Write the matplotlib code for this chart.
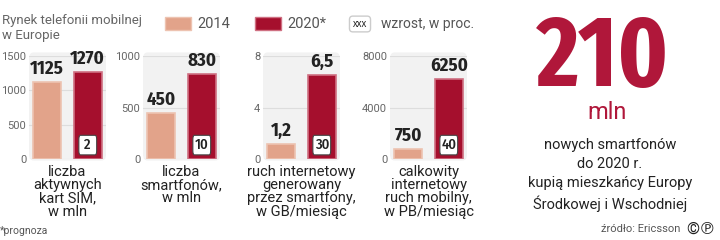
import matplotlib
matplotlib.use("Agg")
import matplotlib.pyplot as plt
from matplotlib.patches import FancyBboxPatch, Patch
from matplotlib import transforms

# data
categories = [
    "liczba\naktywnych\nkart SIM,\nw mln",
    "liczba\nsmartfonów,\nw mln",
    "ruch internetowy\ngenerowany\nprzez smartfony,\nw GB/miesiąc",
    "calkowity\ninternetowy\nruch mobilny,\nw PB/miesiąc",
]
values_2014 = [1125, 450, 1.2, 750]
values_2020 = [1270, 830, 6.5, 6250]
growth_pct = [2, 10, 30, 40]
y_ticks = [[0, 500, 1000, 1500], [0, 500, 1000], [0, 4, 8], [0, 4000, 8000]]
series_labels = ["2014", "2020*"]

C14 = "#e2a38a"
C20 = "#a50f2d"
RED = "#b0173a"
TXT = "#222222"
GREY = "#666666"
NARROW = ["Fira Sans Condensed", "DejaVu Sans"]
XNARROW = ["Fira Sans Extra Condensed", "Fira Sans Condensed", "DejaVu Sans"]

plt.rcParams["font.family"] = ["Roboto", "DejaVu Sans"]

W, H = 720, 240
fig = plt.figure(figsize=(7.2, 2.4), dpi=100)


def fx(px):
    return px / W


def fy(py):
    return 1 - py / H


def fmt(v):
    return str(v).replace(".", ",")


panel_left = [29, 143, 263, 390]
ax_w, ax_top, ax_bot = 77, 56, 159

for i in range(4):
    ax = fig.add_axes([fx(panel_left[i]), fy(ax_bot), ax_w / W, (ax_bot - ax_top) / H])
    ax.set_xlim(-0.45, 1.45)
    ax.set_ylim(0, y_ticks[i][-1])
    ax.set_yticks(y_ticks[i])
    ax.tick_params(axis="y", length=0, pad=2, labelsize=8, labelcolor=GREY)
    ax.set_xticks([])
    for s in ax.spines.values():
        s.set_visible(False)
    ax.patch.set_alpha(0)
    ax.add_patch(FancyBboxPatch((0.0, -0.015), 1.0, 1.05, boxstyle="round,pad=0,rounding_size=0.06",
                                transform=ax.transAxes, fc="#f2f2f2", ec="none",
                                clip_on=False, zorder=0))
    ax.grid(axis="y", color="#dddddd", lw=0.8, zorder=1)
    ax.set_axisbelow(True)

    ax.bar([0], [values_2014[i]], width=0.7, color=C14, edgecolor="#edc3b1", lw=1.2, zorder=2)
    ax.bar([1], [values_2020[i]], width=0.7, color=C20, edgecolor="#cf7082", lw=1.2, zorder=2)

    for x, v in zip([0, 1], [values_2014[i], values_2020[i]]):
        ax.annotate(fmt(v), (x, v), xytext=(0, 3), textcoords="offset points",
                    ha="center", va="bottom", fontsize=13.5, fontweight="bold",
                    family=NARROW, color=TXT)

    tr = transforms.blended_transform_factory(ax.transData, ax.transAxes)
    ax.add_patch(FancyBboxPatch((1 - 0.22, 0.04), 0.44, 0.19,
                                boxstyle="round,pad=0,rounding_size=0.04",
                                transform=tr, fc="white", ec="#444444", lw=0.8, zorder=3))
    ax.text(1, 0.135, str(growth_pct[i]), transform=tr, ha="center", va="center",
            fontsize=10.5, fontweight="medium", family=NARROW, color=TXT, zorder=4)

    ax.text(0.5, -0.06, categories[i], transform=ax.transAxes, ha="center", va="top",
            fontsize=10.5, color=TXT, linespacing=0.92)

# title and legend
fig.text(fx(2), fy(14), "Rynek telefonii mobilnej\nw Europie", ha="left", va="top",
         fontsize=9.5, color="#666666", linespacing=1.2)

handles = [Patch(fc=C14, ec="#edc3b1", lw=1), Patch(fc=C20, ec="#cf7082", lw=1)]
fig.legend(handles, series_labels, loc="center left", bbox_to_anchor=(fx(152), fy(24)),
           ncol=2, frameon=False, fontsize=10.5, handlelength=1.8, handleheight=1.0,
           handletextpad=0.4, columnspacing=1.7, labelcolor="#555555")

fig.text(fx(360), fy(24), "XXX", ha="center", va="center", fontsize=7, family=NARROW,
         color=TXT, bbox=dict(boxstyle="round,pad=0.35", fc="white", ec="#cccccc", lw=1))
fig.text(fx(381), fy(24), "wzrost, w proc.", ha="left", va="center", fontsize=10,
         color="#555555")

# right column
fig.text(fx(603), fy(86), "210", ha="center", va="baseline", fontsize=72,
         fontweight="bold", family=XNARROW, color=RED)
fig.text(fx(607), fy(119), "mln", ha="center", va="baseline", fontsize=17, color=RED)
fig.text(fx(610), fy(138),
         "nowych smartfonów\ndo 2020 r.\nkupią mieszkańcy Europy\nŚrodkowej i Wschodniej",
         ha="center", va="top", fontsize=10.5, color=TXT, linespacing=1.45)

fig.text(fx(0), fy(231), "*prognoza", ha="left", va="center", fontsize=7.5, color="#555555")
fig.text(fx(680), fy(229), "źródło: Ericsson", ha="right", va="center", fontsize=8,
         color="#555555")
fig.text(fx(701), fy(229), "©℗", ha="center", va="center", fontsize=12, color=TXT)

fig.savefig("out.png", dpi=100)
